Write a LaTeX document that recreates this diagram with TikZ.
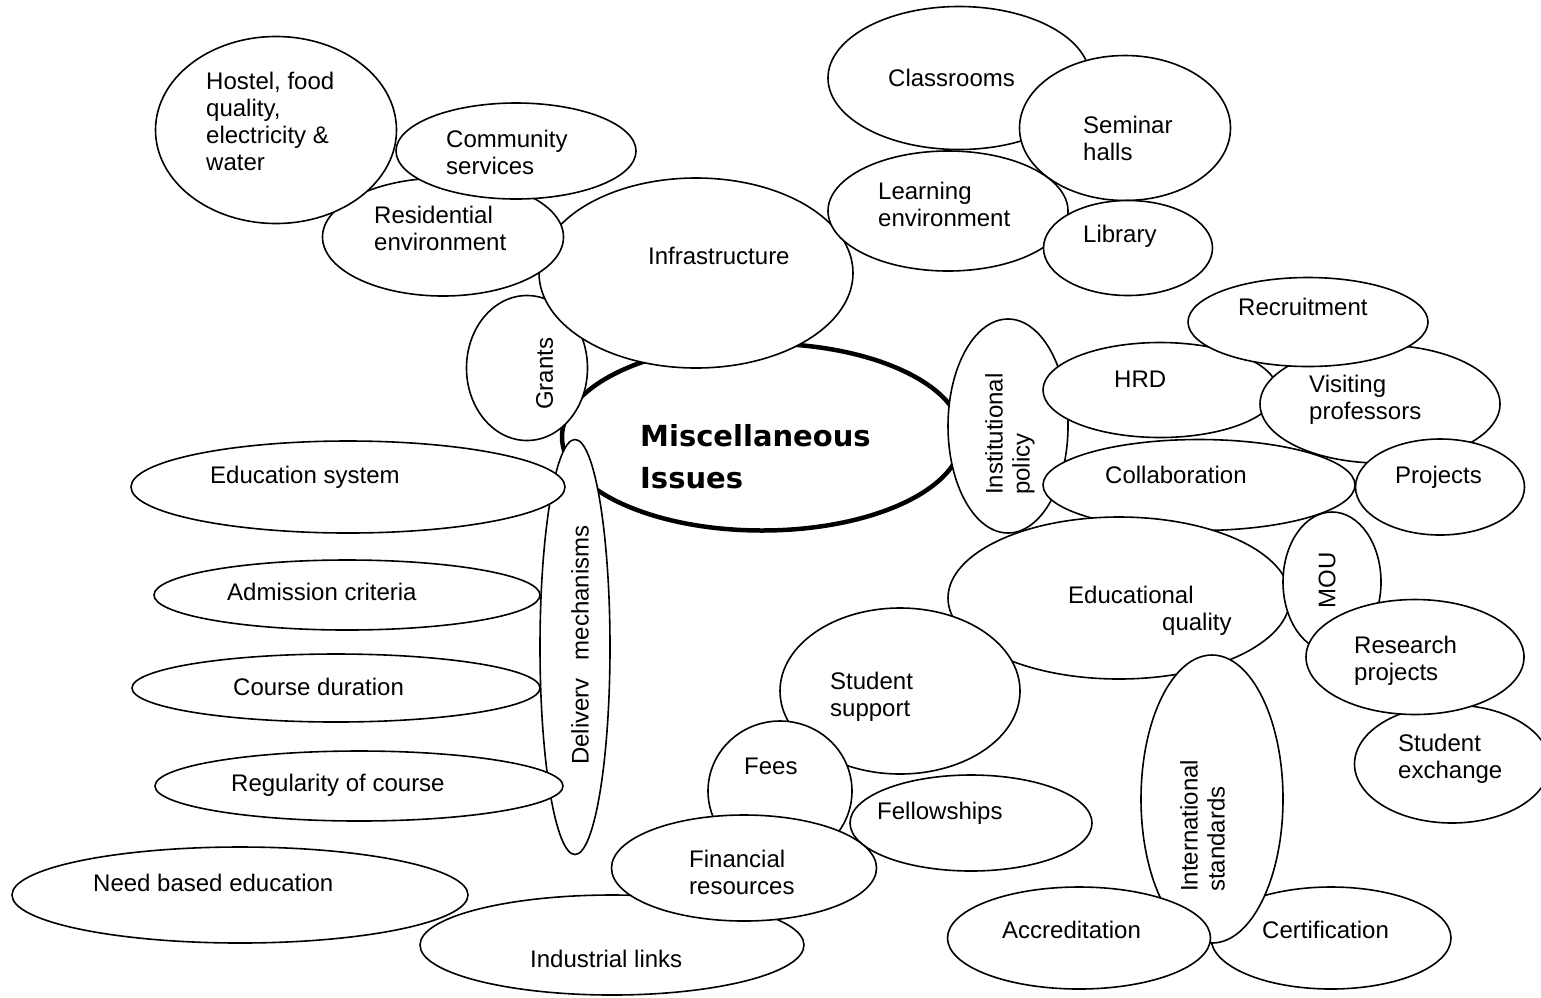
\documentclass[tikz,border=0pt]{standalone}
\usepackage{fontspec}
\setmainfont{Liberation Sans}
\newfontfamily\heavyfont{DejaVu Sans}
\usepackage{tikz}
\usetikzlibrary{shapes.geometric}

\tikzset{
  bubble/.style={ellipse, draw, fill=white, line width=1.6pt, inner sep=0pt},
  lbl/.style={inner sep=0pt, anchor=north west, align=left, font=\fontsize{24}{27}\selectfont},
}

\begin{document}
\begin{tikzpicture}[x=1pt, y=-1pt]
\useasboundingbox (0,0) rectangle (1541,997);

% centre
\node[bubble, line width=4.5pt, minimum width=400pt, minimum height=187pt] (misc) at (762,437) {};
\node[lbl, font=\heavyfont\bfseries\fontsize{29}{42}\selectfont] (misc-t) at (640,424) {Miscellaneous\\Issues};

% infrastructure side
\node[bubble, minimum width=121pt, minimum height=145pt] (grants) at (527,368) {};
\node[lbl, rotate=90] (grants-t) at (536,410) {Grants};
\node[bubble, minimum width=314pt, minimum height=190pt] (infra) at (696,273) {};
\node[lbl] (infra-t) at (648,247) {Infrastructure};
\node[bubble, minimum width=241pt, minimum height=118pt] (resid) at (443,237) {};
\node[lbl] (resid-t) at (374,206) {Residential\\environment};
\node[bubble, minimum width=241pt, minimum height=187pt] (hostel) at (276,130) {};
\node[lbl] (hostel-t) at (206,72) {Hostel, food\\quality,\\electricity \&\\water};
\node[bubble, minimum width=240pt, minimum height=96pt] (commun) at (516,151) {};
\node[lbl] (commun-t) at (446,130) {Community\\services};
\node[bubble, minimum width=262pt, minimum height=143pt] (classes) at (959,78) {};
\node[lbl] (classes-t) at (888,69) {Classrooms};
\node[bubble, minimum width=211pt, minimum height=145pt] (seminar) at (1125,128) {};
\node[lbl] (seminar-t) at (1083,116) {Seminar\\halls};
\node[bubble, minimum width=240pt, minimum height=120pt] (learn) at (948,211) {};
\node[lbl] (learn-t) at (878,182) {Learning\\environment};
\node[bubble, minimum width=169pt, minimum height=95pt] (library) at (1128,248) {};
\node[lbl] (library-t) at (1083,225) {Library};

% institutional policy side
\node[bubble, minimum width=120pt, minimum height=214pt] (policy) at (1008,426) {};
\node[lbl, rotate=90] (policy-t) at (985,495) {Institutional\\policy};
\node[bubble, minimum width=234pt, minimum height=95pt] (hrd) at (1160,390) {};
\node[lbl] (hrd-t) at (1114,371) {HRD};
\node[bubble, minimum width=240pt, minimum height=118pt] (visit) at (1380,404) {};
\node[lbl] (visit-t) at (1309,375) {Visiting\\professors};
\node[bubble, minimum width=240pt, minimum height=89pt] (recruit) at (1308,322) {};
\node[lbl] (recruit-t) at (1238,298) {Recruitment};
\node[bubble, minimum width=312pt, minimum height=91pt] (collab) at (1199,485) {};
\node[lbl] (collab-t) at (1105,466) {Collaboration};
\node[bubble, minimum width=169pt, minimum height=96pt] (proj) at (1440,487) {};
\node[lbl] (proj-t) at (1395,466) {Projects};

% educational quality side
\node[bubble, minimum width=342pt, minimum height=162pt] (eduq) at (1119,598) {};
\node[lbl] (eduq-t) at (1068,586) {Educational\\\hspace*{94pt}quality};
\node[bubble, minimum width=98pt, minimum height=140pt] (mou) at (1332,582) {};
\node[lbl, rotate=90, anchor=center] (mou-t) at (1327,580) {MOU};
\node[bubble, minimum width=195pt, minimum height=118pt] (exch) at (1452,764) {};
\node[lbl] (exch-t) at (1398,734) {Student\\exchange};
\node[bubble, minimum width=218pt, minimum height=115pt] (research) at (1415,657) {};
\node[lbl] (research-t) at (1354,636) {Research\\projects};
\node[bubble, minimum width=240pt, minimum height=102pt] (cert) at (1331,938) {};
\node[lbl] (cert-t) at (1262,921) {Certification};
\node[bubble, minimum width=142pt, minimum height=288pt] (intl) at (1212,799) {};
\node[lbl, rotate=90] (intl-t) at (1180,892) {International\\standards};
\node[bubble, minimum width=263pt, minimum height=102pt] (accred) at (1079,938) {};
\node[lbl] (accred-t) at (1002,921) {Accreditation};

% student support side
\node[bubble, minimum width=240pt, minimum height=166pt] (support) at (900,691) {};
\node[lbl] (support-t) at (830,672) {Student\\support};
\node[bubble, minimum width=242pt, minimum height=96pt] (fellow) at (971,823) {};
\node[lbl] (fellow-t) at (877,802) {Fellowships};
\node[bubble, minimum width=144pt, minimum height=140pt] (fees) at (780,791) {};
\node[lbl] (fees-t) at (744,758) {Fees};
\node[bubble, minimum width=456pt, minimum height=96pt] (need) at (240,895) {};
\node[lbl] (need-t) at (93,874) {Need based education};
\node[bubble, minimum width=384pt, minimum height=100pt] (indus) at (612,945) {};
\node[lbl] (indus-t) at (530,950) {Industrial links};
\node[bubble, minimum width=265pt, minimum height=106pt] (finance) at (744,868) {};
\node[lbl] (finance-t) at (689,850) {Financial\\resources};

% delivery mechanisms side
\node[bubble, minimum width=70pt, minimum height=415pt] (deliv) at (575,647) {};
\node[lbl, rotate=90] (deliv-t) at (571,765) {Deliverv\hspace{18pt}mechanisms};
\node[bubble, minimum width=434pt, minimum height=92pt] (edsys) at (348,487) {};
\node[lbl] (edsys-t) at (210,466) {Education system};
\node[bubble, minimum width=386pt, minimum height=70pt] (admit) at (347,595) {};
\node[lbl] (admit-t) at (227,583) {Admission criteria};
\node[bubble, minimum width=408pt, minimum height=68pt] (durat) at (336,688) {};
\node[lbl] (durat-t) at (233,678) {Course duration};
\node[bubble, minimum width=408pt, minimum height=70pt] (regul) at (359,786) {};
\node[lbl] (regul-t) at (231,774) {Regularity of course};
\end{tikzpicture}
\end{document}
